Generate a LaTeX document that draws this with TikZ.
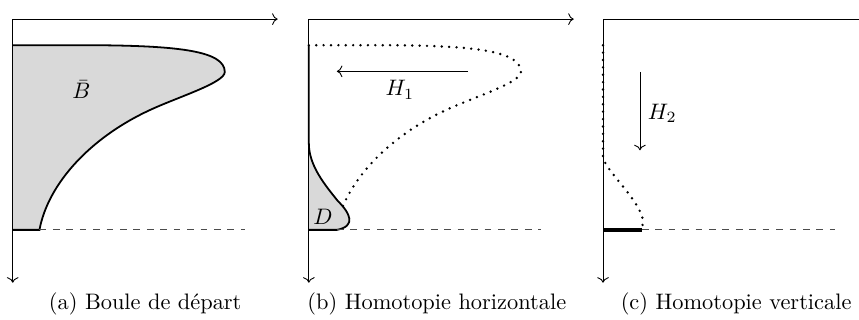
\documentclass[tikz,border=0pt]{standalone}
\usetikzlibrary{arrows.meta}

% bord de la boule de depart (sans le cote gauche)
\newcommand{\boulepath}{(0,-0.41) -- (1.3,-0.41)
  .. controls (2.6,-0.42) and (3.33,-0.5) .. (3.33,-0.83)
  .. controls (3.33,-1.0) and (2.6,-1.22) .. (2.15,-1.43)
  .. controls (1.2,-1.87) and (0.55,-2.6) .. (0.42,-3.31)}

\begin{document}
\begin{tikzpicture}[
    axe/.style={->, thin},
    bord/.style={thick},
    niveau/.style={dashed, thin, black!70},
    pointille/.style={line width=1.2pt, line cap=round,
                      dash pattern=on 0pt off 3.3pt},
    zone/.style={fill=black!15},
    >=To
  ]
  \useasboundingbox (0,0) rectangle (13.49,-5.02);

  % (a) boule de depart
  \begin{scope}[xshift=0.20cm, yshift=-0.30cm]
    \fill[zone] \boulepath -- (0,-3.31) -- cycle;
    \draw[bord] \boulepath -- (0,-3.31);
    \node (bbar) at (1.08,-1.11) {$\bar{B}$};
    \node (capa) at (2.08,-4.48) {(a) Boule de départ};
  \end{scope}

  % (b) homotopie horizontale
  \begin{scope}[xshift=4.85cm, yshift=-0.30cm]
    \draw[pointille] \boulepath;
    \fill[zone] (0,-1.95) .. controls (0,-2.3) and (0.25,-2.6) .. (0.45,-2.85)
      .. controls (0.65,-3.05) and (0.75,-3.25) .. (0.44,-3.31)
      -- (0,-3.31) -- cycle;
    \draw[bord] (0,-0.41) -- (0,-1.95)
      .. controls (0,-2.3) and (0.25,-2.6) .. (0.45,-2.85)
      .. controls (0.65,-3.05) and (0.75,-3.25) .. (0.44,-3.31)
      -- (0,-3.31);
    \node (d) at (0.22,-3.11) {$D$};
    \coordinate (h1a) at (2.50,-0.82);
    \coordinate (h1b) at (0.44,-0.82);
    \draw[->, thin] (h1a) -- (h1b);
    \node (h1) at (1.43,-1.11) {$H_1$};
    \node (capb) at (2.01,-4.48) {(b) Homotopie horizontale};
  \end{scope}

  % (c) homotopie verticale
  \begin{scope}[xshift=9.47cm, yshift=-0.30cm]
    \draw[pointille] (0,-0.41) -- (0,-2.17)
      .. controls (0.05,-2.4) and (0.55,-2.8) .. (0.63,-3.16) -- (0.61,-3.31);
    \draw[ultra thick] (0,-3.31) -- (0.61,-3.31);
    \coordinate (h2a) at (0.58,-0.83);
    \coordinate (h2b) at (0.58,-2.06);
    \draw[->, thin] (h2a) -- (h2b);
    \node (h2) at (0.93,-1.48) {$H_2$};
    \node (capc) at (2.09,-4.48) {(c) Homotopie verticale};
  \end{scope}

  % axes et niveau de base
  \foreach \sx/\p/\xd in {0.20/a/0.42, 4.85/b/0.44, 9.47/c/0.61} {
    \begin{scope}[xshift=\sx cm, yshift=-0.30cm]
      \coordinate (o\p) at (0,0);
      \coordinate (x\p) at (4.16,0);
      \coordinate (y\p) at (0,-4.14);
      \coordinate (n\p) at (\xd,-3.31);
      \coordinate (m\p) at (3.64,-3.31);
      \draw[axe] (o\p) -- (x\p);
      \draw[axe] (o\p) -- (y\p);
      \draw[niveau] (n\p) -- (m\p);
    \end{scope}
  }
\end{tikzpicture}
\end{document}
